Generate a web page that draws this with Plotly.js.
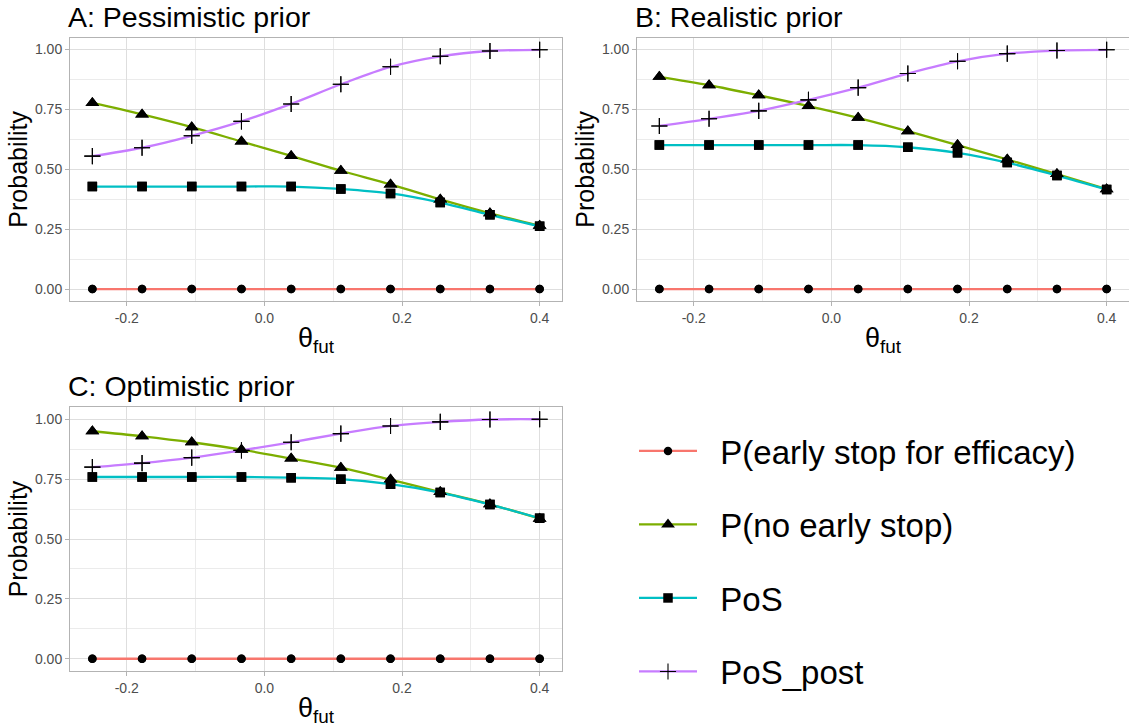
<!DOCTYPE html>
<html>
<head>
<meta charset="utf-8">
<script src="https://cdn.plot.ly/plotly-3.0.1.min.js"></script>
<style>html,body{margin:0;padding:0;background:#fff;}#chart{width:1129px;height:727px;}</style>
</head>
<body>
<div id="chart"></div>
<script>
// ---- data ----
var theta = [-0.25, -0.1778, -0.1056, -0.0333, 0.0389, 0.1111, 0.1833, 0.2556, 0.3278, 0.4];
var seriesNames = ["P(early stop for efficacy)", "P(no early stop)", "PoS", "PoS_post"];
var panelTitles = ["A: Pessimistic prior", "B: Realistic prior", "C: Optimistic prior"];

var A_eff    = [0, 0, 0, 0, 0, 0, 0, 0, 0, 0];
var A_noStop = [0.777, 0.729, 0.676, 0.616, 0.556, 0.494, 0.437, 0.374, 0.316, 0.264];
var A_pos    = [0.428, 0.428, 0.428, 0.428, 0.428, 0.418, 0.399, 0.361, 0.310, 0.262];
var A_post   = [0.555, 0.590, 0.640, 0.700, 0.773, 0.855, 0.928, 0.972, 0.994, 0.999];

var B_eff    = [0, 0, 0, 0, 0, 0, 0, 0, 0, 0];
var B_noStop = [0.886, 0.851, 0.809, 0.764, 0.715, 0.659, 0.601, 0.541, 0.480, 0.417];
var B_pos    = [0.601, 0.601, 0.601, 0.601, 0.601, 0.592, 0.569, 0.528, 0.474, 0.416];
var B_post   = [0.681, 0.711, 0.744, 0.790, 0.841, 0.900, 0.951, 0.983, 0.996, 0.999];

var C_eff    = [0, 0, 0, 0, 0, 0, 0, 0, 0, 0];
var C_noStop = [0.950, 0.929, 0.904, 0.873, 0.836, 0.798, 0.748, 0.696, 0.645, 0.585];
var C_pos    = [0.759, 0.759, 0.759, 0.759, 0.756, 0.750, 0.729, 0.694, 0.644, 0.587];
var C_post   = [0.800, 0.817, 0.840, 0.870, 0.904, 0.940, 0.972, 0.989, 0.999, 1.000];

var xTickVals = [-0.2, 0.0, 0.2, 0.4];
var xTickText = ["-0.2", "0.0", "0.2", "0.4"];
var yTickVals = [0, 0.25, 0.5, 0.75, 1];
var yTickText = ["0.00", "0.25", "0.50", "0.75", "1.00"];

// ---- styles ----
var colors = ["#F8766D", "#7CAE00", "#00BFC4", "#C77CFF"];
var symbols = ["circle", "triangle-up", "square", "cross-thin-open"];
var msizes = [8.5, 12, 9.5, 11.5];
var FONT = "Liberation Sans, Arial, sans-serif";
var GAP = "\u00a0\u00a0"; // spacing between legend key and label

var panels = [
  {data: [A_eff, A_noStop, A_pos, A_post], xa: "x", ya: "y"},
  {data: [B_eff, B_noStop, B_pos, B_post], xa: "x2", ya: "y2"},
  {data: [C_eff, C_noStop, C_pos, C_post], xa: "x3", ya: "y3"}
];

function markerFor(i) {
  var m = {color: "#000000", size: msizes[i], symbol: symbols[i]};
  if (i === 3) m.line = {color: "#000000", width: 1.1};
  else m.line = {width: 0};
  return m;
}

var traces = [];
panels.forEach(function (p, pi) {
  p.data.forEach(function (vals, i) {
    traces.push({
      x: theta, y: vals, xaxis: p.xa, yaxis: p.ya,
      type: "scatter", mode: "lines+markers",
      name: GAP + seriesNames[i], legendgroup: "g" + i, showlegend: pi === 0,
      line: {color: colors[i], width: 2.3, shape: "spline", smoothing: 1},
      marker: markerFor(i), hoverinfo: "x+y"
    });
  });
});
panels.forEach(function (p, pi) {
  // points drawn on top of all lines
  p.data.forEach(function (vals, i) {
    traces.push({
      x: theta, y: vals, xaxis: p.xa, yaxis: p.ya,
      type: "scatter", mode: "markers",
      name: seriesNames[i], legendgroup: "g" + i, showlegend: false,
      marker: markerFor(i), hoverinfo: "skip"
    });
  });
});

// ---- layout geometry (px) ----
var W = 1129, H = 727;
function px(x) { return x / W; }
function py(y) { return 1 - y / H; }
var colA = [px(70), px(562)];
var colB = [px(637), 1.0];
var rowTop = [py(301), py(37.6)];
var rowBot = [py(670.7), py(407.3)];

function xax(domain, anchor) {
  return {
    domain: domain, anchor: anchor, range: [-0.2825, 0.4325],
    tickmode: "array", tickvals: xTickVals, ticktext: xTickText,
    ticks: "outside", ticklen: 4, tickwidth: 1, tickcolor: "#B3B3B3",
    tickfont: {family: FONT, size: 14, color: "#4D4D4D"},
    showgrid: true, gridcolor: "#DEDEDE", gridwidth: 1,
    minor: {tickvals: [-0.1, 0.1, 0.3], showgrid: true, gridcolor: "#EBEBEB", gridwidth: 1, ticks: ""},
    zeroline: false, showline: true, mirror: true, linecolor: "#B3B3B3", linewidth: 1,
    title: {text: "θ<sub>fut</sub>", font: {family: FONT, size: 27, color: "#000"}, standoff: 3},
    automargin: false, fixedrange: true
  };
}
function yax(domain, anchor) {
  return {
    domain: domain, anchor: anchor, range: [-0.05, 1.05],
    tickmode: "array", tickvals: yTickVals, ticktext: yTickText,
    ticks: "outside", ticklen: 4, tickwidth: 1, tickcolor: "#B3B3B3",
    tickfont: {family: FONT, size: 14, color: "#4D4D4D"},
    showgrid: true, gridcolor: "#DEDEDE", gridwidth: 1,
    minor: {tickvals: [0.125, 0.375, 0.625, 0.875], showgrid: true, gridcolor: "#EBEBEB", gridwidth: 1, ticks: ""},
    zeroline: false, showline: true, mirror: true, linecolor: "#B3B3B3", linewidth: 1,
    title: {text: "Probability", font: {family: FONT, size: 25, color: "#000"}, standoff: 0},
    automargin: false, fixedrange: true
  };
}

function titleAnn(text, xpx, ypx) {
  return {
    text: text, xref: "paper", yref: "paper", x: px(xpx), y: py(ypx),
    xanchor: "left", yanchor: "middle", showarrow: false,
    font: {family: FONT, size: 28.5, color: "#000"}
  };
}

var layout = {
  width: W, height: H,
  margin: {l: 0, r: 0, t: 0, b: 0},
  paper_bgcolor: "#ffffff", plot_bgcolor: "#ffffff",
  font: {family: FONT},
  xaxis: xax(colA, "y"), yaxis: yax(rowTop, "x"),
  xaxis2: xax(colB, "y2"), yaxis2: yax(rowTop, "x2"),
  xaxis3: xax(colA, "y3"), yaxis3: yax(rowBot, "x3"),
  annotations: [
    titleAnn(panelTitles[0], 66, 16.5),
    titleAnn(panelTitles[1], 633, 16.5),
    titleAnn(panelTitles[2], 66, 386)
  ],
  showlegend: true,
  legend: {
    x: px(634), y: py(423), xanchor: "left", yanchor: "top",
    traceorder: "grouped", tracegroupgap: 27.6,
    font: {family: FONT, size: 33, color: "#000"},
    itemwidth: 58, bgcolor: "rgba(0,0,0,0)", borderwidth: 0,
    itemclick: false, itemdoubleclick: false
  }
};

Plotly.newPlot("chart", traces, layout, {displayModeBar: false});
</script>
</body>
</html>
